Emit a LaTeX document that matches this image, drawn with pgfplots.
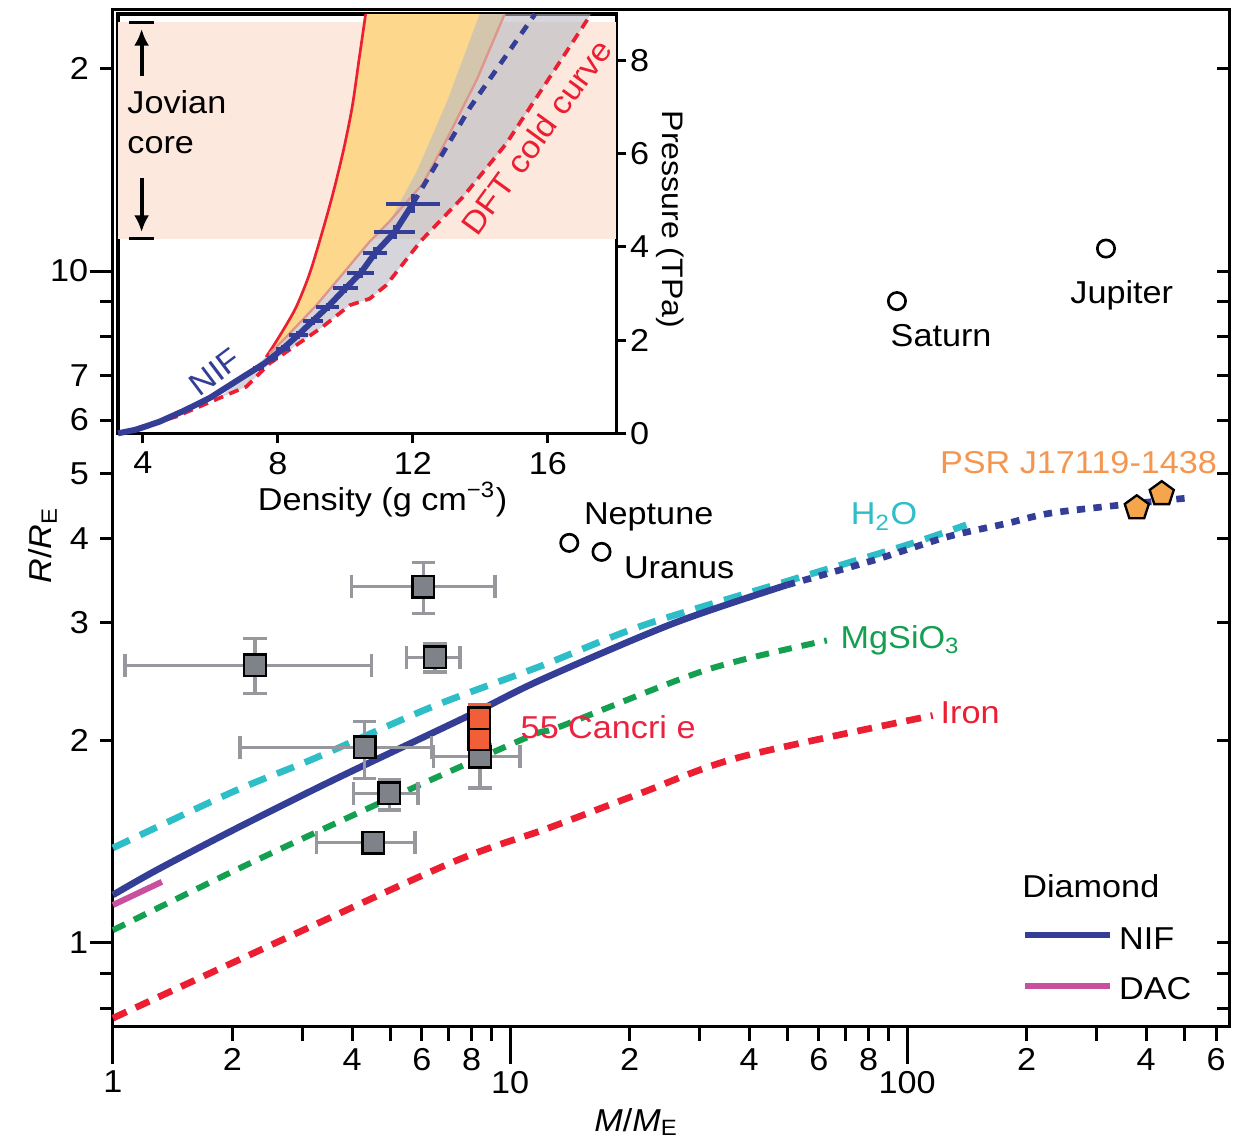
\documentclass[border=0pt]{standalone}
\usepackage{pgfplots}
\pgfplotsset{compat=1.18}
\usetikzlibrary{arrows.meta}
\usepackage{fontspec}
\setmainfont{Liberation Sans}[FakeStretch=1.08]
\definecolor{nifblue}{RGB}{52,62,150}
\definecolor{dacmag}{RGB}{200,80,158}
\definecolor{h2ocyan}{RGB}{45,190,200}
\definecolor{mggreen}{RGB}{20,160,80}
\definecolor{ironred}{RGB}{235,30,50}
\definecolor{sqgrey}{RGB}{128,130,138}
\definecolor{errgrey}{RGB}{150,152,158}
\definecolor{cancri}{RGB}{240,95,55}
\definecolor{psrorange}{RGB}{245,165,75}
\definecolor{psrtext}{RGB}{245,150,80}
\definecolor{jovpink}{RGB}{252,232,220}
\definecolor{orfill}{RGB}{253,215,140}
\definecolor{greyfill}{RGB}{185,186,195}
\definecolor{pinkline}{RGB}{222,150,140}
\definecolor{cancritext}{RGB}{235,35,65}
\pgfplotsset{every axis/.append style={/pgf/number format/assume math mode=true}}
\begin{document}
\fontsize{9.5}{11}\selectfont
\begin{tikzpicture}
\path[use as bounding box] (-33.9pt,-36pt) rectangle (336pt,307.8pt);
% ---------------- main axis ----------------
\begin{axis}[
  name=main, at={(0,0)}, anchor=south west, scale only axis,
  width=334.8pt, height=304.8pt,
  xmode=log, ymode=log,
  xmin=1, xmax=647, ymin=0.7524, ymax=24.46,
  axis line style={line width=0.9pt},
  tick style={line width=0.9pt, black},
  tick align=outside,
  xtick pos=bottom,
  xtick={1,10,100}, xticklabels={1,10,100},
  xticklabel style={yshift=1.2pt},
  minor xtick={2,3,4,5,6,7,8,9,20,30,40,50,60,70,80,90,200,300,400,500,600},
  extra x ticks={2,4,6,8,20,40,60,80,200,400,600},
  extra x tick labels={2,4,6,8,2,4,6,8,2,4,6},
  extra x tick style={major tick length=4.5pt, xticklabel style={yshift=-0.2pt}},
  major tick length=11.4pt, minor tick length=4.5pt,
  ytick=\empty,
  clip=false,
]
% composition curves
\addplot[h2ocyan, line width=2pt, dash pattern=on 5.5pt off 3.5pt, smooth] coordinates {
 (1,1.385) (2.01,1.68) (3.2,1.88) (6.41,2.25) (11.9,2.58) (21.3,2.96) (47.9,3.43) (99.8,3.91) (141,4.19)};
\addplot[mggreen, line width=1.8pt, dash pattern=on 4pt off 3pt, smooth] coordinates {
 (1,1.045) (2.13,1.30) (5.08,1.65) (11.2,2.03) (13.4,2.10) (31.3,2.55) (62.8,2.82)};
\addplot[ironred, line width=2pt, dash pattern=on 4.5pt off 3pt, smooth] coordinates {
 (1,0.773) (2.21,0.96) (7.06,1.314) (12.4,1.48) (21.3,1.67) (37.9,1.89) (116,2.18)};
\addplot[nifblue, line width=2pt, smooth] coordinates {
 (1,1.179) (1.289,1.284) (2.01,1.473) (3.59,1.748) (7.78,2.172) (11.9,2.46) (25.8,2.99) (49.8,3.41)};
\addplot[nifblue, line width=2pt, dash pattern=on 2.5pt off 2.5pt, smooth] coordinates {
 (49.8,3.41) (82.2,3.71) (126,4.02) (178,4.21) (229,4.36) (351,4.49) (520,4.60)};
\addplot[dacmag, line width=1.8pt] coordinates {(1,1.139) (1.328,1.233)};
% exoplanets with error bars
\addplot[errgrey, only marks, mark=square*, mark size=3.25pt,
  mark options={fill=sqgrey, draw=black, line width=0.7pt},
  error bars/.cd, x dir=both, x explicit, y dir=both, y explicit,
  error bar style={errgrey, line width=1pt},
  error mark options={rotate=90, errgrey, mark size=3.5pt, line width=1pt}]
 table[x=M, y=R, x error plus=exp, x error minus=exm, y error plus=eyp, y error minus=eym] {
 M    R     exp  exm   eyp   eym
 6.05 3.39  3.12 2.06  0.29  0.30
 2.28 2.59  2.20 1.208 0.25  0.24
 6.47 2.66  1.01 0.98  0.13  0.13
 4.30 1.955 2.05 2.21  0.18  0.197
 4.97 1.67  0.90 0.94  0.078 0.093
 4.53 1.41  1.23 1.27  0.0   0.0
 8.40 1.894 2.20 1.99  0.076 0.194
};
% 55 Cancri e
\addplot[cancri, only marks, mark=square*, mark size=3.25pt,
  mark options={fill=cancri, draw=black, line width=0.7pt},
  error bars/.cd, y dir=both, y explicit,
  error bar style={cancri, line width=1pt},
  error mark options={rotate=90, cancri, mark size=3.5pt, line width=1pt}]
 table[x=M, y=R, y error plus=eyp, y error minus=eym] {
 M    R    eyp  eym
 8.37 2.01 0.07 0.12
 8.37 2.16 0.10 0.08
};
% solar system planets
\addplot[black, only marks, mark=o, mark size=2.6pt, mark options={line width=0.8pt}] coordinates {
 (14.1,3.94) (17.0,3.82) (94.3,9.02) (317,10.8)};
% PSR planets
\addplot[black, only marks, mark=pentagon*, mark size=3.8pt,
  mark options={fill=psrorange, draw=black, line width=0.7pt}] coordinates {(379,4.44) (438,4.66)};
% labels
\node[anchor=base west, inner sep=0pt] at (axis cs:15.3,4.20) {Neptune};
\node[anchor=base west, inner sep=0pt] at (axis cs:19.3,3.49) {Uranus};
\node[anchor=base west, inner sep=0pt] at (axis cs:90.6,7.73) {Saturn};
\node[anchor=base west, inner sep=0pt] at (axis cs:257,8.95) {Jupiter};
\node[anchor=base west, inner sep=0pt, text=psrtext] at (axis cs:120.6,5.0) {PSR J17119-1438};
\node[anchor=base west, inner sep=0pt, text=h2ocyan] at (axis cs:71.9,4.19) {H\textsubscript{2}O};
\node[anchor=base west, inner sep=0pt, text=mggreen] at (axis cs:67.8,2.745) {MgSiO\textsubscript{3}};
\node[anchor=base west, inner sep=0pt, text=ironred] at (axis cs:121,2.123) {Iron};
\node[anchor=base west, inner sep=0pt, text=cancritext] at (axis cs:10.6,2.017) {55 Cancri e};
% legend
\node[anchor=base west, inner sep=0pt] at (axis cs:194.5,1.17) {Diamond};
\draw[nifblue, line width=1.8pt] (axis cs:198.3,1.0278) -- (axis cs:324.6,1.0278);
\node[anchor=base west, inner sep=0pt] at (axis cs:340.6,0.9786) {NIF};
\draw[dacmag, line width=1.8pt] (axis cs:198.3,0.863) -- (axis cs:324.6,0.863);
\node[anchor=base west, inner sep=0pt] at (axis cs:340.6,0.823) {DAC};
% axis labels
\node[xshift=-18.3pt, rotate=90, anchor=base, inner sep=0pt] at (rel axis cs:0,0.473) {\textit{R}/\textit{R}\textsubscript{E}};
\node[yshift=-31.5pt, anchor=base, inner sep=0pt] at (rel axis cs:0.469,0) {\textit{M}/\textit{M}\textsubscript{E}};
\end{axis}
% ---------------- left y ticks ----------------
\begin{axis}[
  at={(0,0)}, anchor=south west, scale only axis,
  width=334.8pt, height=304.8pt,
  xmode=log, ymode=log,
  xmin=1, xmax=647, ymin=0.7524, ymax=24.46,
  axis line style={draw=none},
  tick style={line width=0.9pt, black},
  tick align=outside,
  xtick=\empty, ytick pos=left,
  ytick={1,10}, yticklabels={1,10},
  yticklabel style={xshift=2.8pt},
  minor ytick={0.8,0.9,2,3,4,5,6,7,8,9,20},
  extra y ticks={2,3,4,5,6,7,20},
  extra y tick labels={2,3,4,5,6,7,2},
  extra y tick style={major tick length=3.9pt, yticklabel style={xshift=-2.8pt}},
  major tick length=6.9pt, minor tick length=3.9pt,
]
\end{axis}
% ---------------- right y ticks ----------------
\begin{axis}[
  at={(0,0)}, anchor=south west, scale only axis,
  width=334.8pt, height=304.8pt,
  xmode=log, ymode=log,
  xmin=1, xmax=647, ymin=0.7524, ymax=24.46,
  axis line style={draw=none},
  tick style={line width=0.9pt, black},
  tick align=inside,
  xtick=\empty, ytick pos=right,
  ytick={1,10}, yticklabels={},
  minor ytick={0.8,0.9,2,3,4,5,6,7,8,9,20},
  major tick length=3.6pt, minor tick length=3.6pt,
]
\end{axis}
% ---------------- inset ----------------
\begin{axis}[
  at={(1.5pt,177.8pt)}, anchor=south west, scale only axis,
  width=149.5pt, height=125.8pt,
  xmin=3.26, xmax=18.03, ymin=0, ymax=9,
  axis background/.style={fill=white},
  axis line style={line width=1pt},
  tick style={line width=0.9pt, black},
  tick align=outside, major tick length=3pt,
  xtick={4,8,12,16}, ytick={0,2,4,6,8},
  xtick pos=bottom, ytick pos=right, yticklabel pos=right,
  yticklabel style={xshift=-2.2pt},
  xticklabel style={yshift=0.8pt},
  clip=false,
]
\addplot[fill=jovpink, draw=none] coordinates {(3.26,4.18) (18.03,4.18) (18.03,8.82) (3.26,8.82)} -- cycle;
\addplot[fill=orfill, draw=none] coordinates {
 (7.65,1.64) (7.85,1.86) (8.15,2.21) (8.54,2.71) (8.94,3.43) (9.33,4.36) (9.65,5.2) (9.95,6.1) (10.2,7.0) (10.4,8.0) (10.6,9.0)
 (14.72,9.0) (13.9,7.6) (12.99,6.29) (12.3,5.36) (11.31,4.55) (10.7,4.1) (9.93,3.43) (9.14,2.75) (8.25,2.07) (7.75,1.71)} -- cycle;
\addplot[fill=greyfill, fill opacity=0.6, draw=none] coordinates {
 (6.3,0.78) (6.96,1.21) (7.75,1.71) (8.25,2.07) (9.14,2.75) (9.93,3.43) (10.7,4.1) (11.31,4.55) (12.1,5.6) (13.0,7.1) (13.98,9.0)
 (17.27,9.0) (17.19,8.9) (16.0,7.58) (14.77,6.22) (13.48,5.07) (12.25,4.14) (11.6,3.54) (11.21,3.18) (10.72,2.89) (10.13,2.75) (9.33,2.29) (8.54,1.89) (7.75,1.50) (7.06,1.0) (6.47,0.82)} -- cycle;
\addplot[ironred, line width=0.8pt, smooth] coordinates {
 (7.65,1.64) (7.85,1.86) (8.15,2.21) (8.54,2.71) (8.94,3.43) (9.33,4.36) (9.65,5.2) (9.95,6.1) (10.2,7.0) (10.4,8.0) (10.6,9.0)};
\addplot[pinkline, line width=0.7pt] coordinates {
 (7.75,1.71) (8.25,2.07) (9.14,2.75) (9.93,3.43) (10.7,4.1) (11.31,4.55) (12.3,5.36) (12.99,6.29) (13.9,7.6) (14.72,9.0)};
\addplot[ironred, line width=1.1pt, dash pattern=on 3pt off 2pt] coordinates {
 (3.31,0) (4.99,0.36) (6.47,0.82) (7.06,1.0) (7.75,1.50) (8.54,1.89) (9.33,2.29) (10.13,2.75) (10.72,2.89) (11.21,3.18) (11.6,3.54) (12.25,4.14) (13.48,5.07) (14.77,6.22) (16.0,7.58) (17.19,8.9)};
\addplot[nifblue, line width=1.8pt] coordinates {
 (3.26,0.0) (3.8,0.08) (4.49,0.25) (5.2,0.48) (5.98,0.76) (6.96,1.21) (7.6,1.5) (8.15,1.82) (8.6,2.11) (9.03,2.41) (9.47,2.71) (10.0,3.11) (10.45,3.44) (10.88,3.87) (11.46,4.32) (12.0,4.93)};
\addplot[nifblue, line width=1.4pt, dash pattern=on 3pt off 2.5pt] coordinates {
 (12.0,4.93) (13.7,7.0) (15.62,9.0)};
\addplot[nifblue, only marks, mark=text, text mark={}, error bars/.cd, x dir=both, x explicit, y dir=both, y explicit,
  error mark=none, error bar style={nifblue, line width=1.2pt}]
 table[x=d, y=p, x error=ex, y error=ey] {
 d     p    ex   ey
 7.42  1.40 0.17 0.07
 7.85  1.61 0.15 0.07
 8.15  1.82 0.22 0.08
 8.6   2.11 0.28 0.08
 9.03  2.41 0.30 0.09
 9.47  2.71 0.35 0.09
 10.0  3.11 0.37 0.10
 10.45 3.44 0.40 0.10
 10.88 3.87 0.35 0.12
 11.46 4.32 0.60 0.15
 12.0  4.93 0.80 0.20
};
% Jovian core annotation
\draw[black, line width=1pt] (axis cs:3.59,8.82) -- (axis cs:4.33,8.82);
\draw[black, line width=1pt] (axis cs:3.59,4.18) -- (axis cs:4.33,4.18);
\draw[black, line width=1.2pt, -{Latex[length=5pt,width=4.5pt]}] (axis cs:3.96,7.68) -- (axis cs:3.96,8.68);
\draw[black, line width=1.2pt, -{Latex[length=5pt,width=4.5pt]}] (axis cs:3.96,5.47) -- (axis cs:3.96,4.32);
\node[anchor=base west, inner sep=0pt] at (axis cs:3.52,6.87) {Jovian};
\node[anchor=base west, inner sep=0pt] at (axis cs:3.52,6.01) {core};
\node[text=nifblue, rotate=37, inner sep=0pt] at (axis cs:6.13,1.32) {NIF};
\node[text=ironred, rotate=54, inner sep=0pt] at (axis cs:15.66,6.36) {DFT cold curve};
\node[xshift=13.8pt, rotate=-90, anchor=base, inner sep=0pt, font=\fontsize{8.9}{11}\selectfont] at (rel axis cs:1,0.51) {Pressure (TPa)};
\node[yshift=-23pt, anchor=base, inner sep=0pt] at (rel axis cs:0.531,0) {Density (g cm\textsuperscript{\char"2212 3})};
\end{axis}
\end{tikzpicture}
\end{document}
